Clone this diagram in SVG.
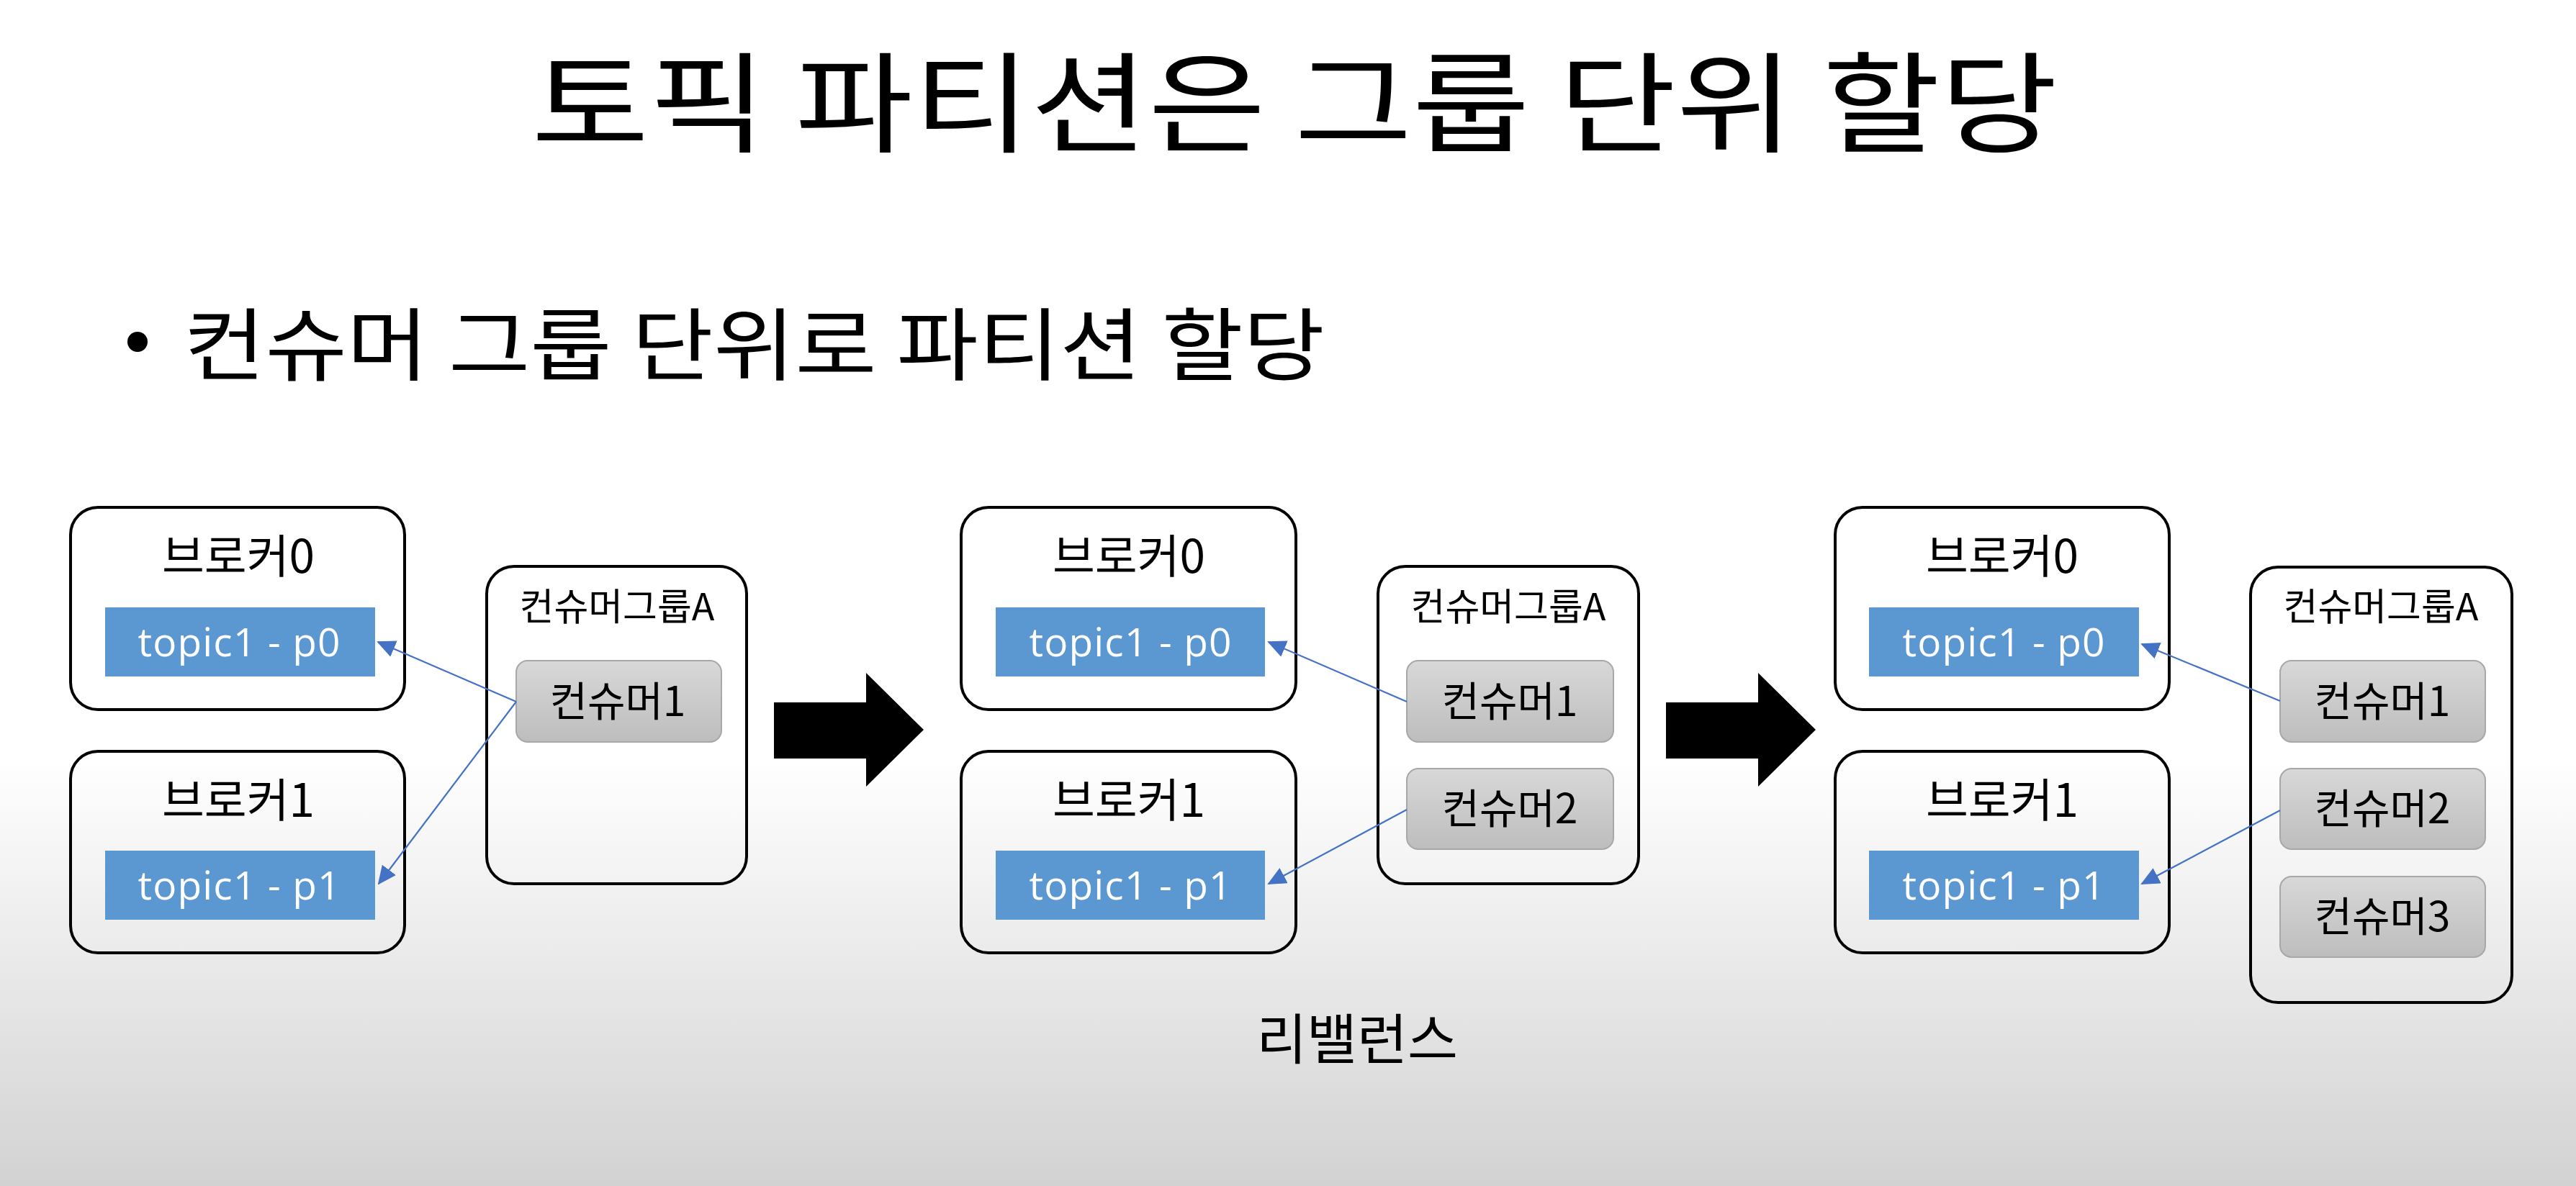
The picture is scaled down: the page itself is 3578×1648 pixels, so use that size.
<svg xmlns="http://www.w3.org/2000/svg" width="3578" height="1648" viewBox="0 0 3578 1648">
<defs>
<linearGradient id="bg" x1="0" y1="0" x2="0" y2="1">
<stop offset="0" stop-color="#ffffff"/>
<stop offset="0.64" stop-color="#ffffff"/>
<stop offset="1" stop-color="#d2d2d2"/>
</linearGradient>
<linearGradient id="cons" x1="0" y1="0" x2="0" y2="1">
<stop offset="0" stop-color="#d8d8d8"/>
<stop offset="1" stop-color="#bdbdbd"/>
</linearGradient>
<marker id="ah" markerUnits="userSpaceOnUse" markerWidth="26" markerHeight="24" refX="24" refY="12" orient="auto">
<path d="M0,0 L26,12 L0,24 Z" fill="#4472c4"/>
</marker>
<style>
.ko{font-family:"Noto Sans CJK KR","Noto Sans",sans-serif;fill:#000}
.broker{fill:none;stroke:#000;stroke-width:4}
.group{fill:none;stroke:#000;stroke-width:4}
.topic{fill:#5b97d1}
.tt{font-family:"Open Sans","Liberation Sans",sans-serif;font-size:55px;fill:#ffffff;text-anchor:middle}
.bl{font-size:64px;text-anchor:middle}
.gl{font-size:52px;text-anchor:middle}
.cons{fill:url(#cons);stroke:#a8a8a8;stroke-width:2}
.cl{font-size:57px;text-anchor:middle}
.conn{stroke:#4472c4;stroke-width:2.2;fill:none;marker-end:url(#ah)}
.big{fill:#000}
</style>
</defs>
<rect x="0" y="0" width="3578" height="1648" fill="url(#bg)"/>

<g id="title">
<text class="ko" x="738" y="200" font-size="152" textLength="2120" lengthAdjust="spacingAndGlyphs">토픽 파티션은 그룹 단위 할당</text>
</g>
<g id="subtitle">
<circle cx="191" cy="475" r="14" fill="#000"/>
<text class="ko" x="255" y="520" font-size="110" textLength="1585" lengthAdjust="spacingAndGlyphs">컨슈머 그룹 단위로 파티션 할당</text>
</g>

<!-- Panel 1 -->
<g id="p1-broker0">
<rect class="broker" x="98" y="705" width="464" height="281" rx="38"/>
<text class="ko bl" x="331" y="796">브로커0</text>
<rect class="topic" x="146" y="844" width="375" height="96"/>
<text class="tt" x="332" y="912" textLength="281" lengthAdjust="spacing">topic1 - p0</text>
</g>
<g id="p1-broker1">
<rect class="broker" x="98" y="1044" width="464" height="280" rx="38"/>
<text class="ko bl" x="331" y="1135">브로커1</text>
<rect class="topic" x="146" y="1182" width="375" height="96"/>
<text class="tt" x="332" y="1250" textLength="281" lengthAdjust="spacing">topic1 - p1</text>
</g>
<g id="p1-group">
<rect class="group" x="676" y="787" width="361" height="441" rx="38"/>
<text class="ko gl" x="857" y="862">컨슈머그룹A</text>
</g>
<g id="p1-consumer1">
<rect class="cons" x="717" y="918" width="285" height="113" rx="16"/>
<text class="ko cl" x="858" y="995">컨슈머1</text>
</g>

<!-- Panel 2 -->
<g id="p2-broker0">
<rect class="broker" x="1335" y="705" width="465" height="281" rx="38"/>
<text class="ko bl" x="1568" y="796">브로커0</text>
<rect class="topic" x="1383" y="844" width="374" height="96"/>
<text class="tt" x="1570" y="912" textLength="281" lengthAdjust="spacing">topic1 - p0</text>
</g>
<g id="p2-broker1">
<rect class="broker" x="1335" y="1044" width="465" height="280" rx="38"/>
<text class="ko bl" x="1568" y="1135">브로커1</text>
<rect class="topic" x="1383" y="1182" width="374" height="96"/>
<text class="tt" x="1570" y="1250" textLength="281" lengthAdjust="spacing">topic1 - p1</text>
</g>
<g id="p2-group">
<rect class="group" x="1914" y="787" width="362" height="441" rx="38"/>
<text class="ko gl" x="2095" y="862">컨슈머그룹A</text>
</g>
<g id="p2-consumer1">
<rect class="cons" x="1954" y="918" width="287" height="113" rx="16"/>
<text class="ko cl" x="2097" y="995">컨슈머1</text>
</g>
<g id="p2-consumer2">
<rect class="cons" x="1954" y="1068" width="287" height="112" rx="16"/>
<text class="ko cl" x="2097" y="1144">컨슈머2</text>
</g>

<!-- Panel 3 -->
<g id="p3-broker0">
<rect class="broker" x="2549" y="705" width="464" height="281" rx="38"/>
<text class="ko bl" x="2781" y="796">브로커0</text>
<rect class="topic" x="2596" y="844" width="375" height="96"/>
<text class="tt" x="2783" y="912" textLength="281" lengthAdjust="spacing">topic1 - p0</text>
</g>
<g id="p3-broker1">
<rect class="broker" x="2549" y="1044" width="464" height="280" rx="38"/>
<text class="ko bl" x="2781" y="1135">브로커1</text>
<rect class="topic" x="2596" y="1182" width="375" height="96"/>
<text class="tt" x="2783" y="1250" textLength="281" lengthAdjust="spacing">topic1 - p1</text>
</g>
<g id="p3-group">
<rect class="group" x="3126" y="788" width="363" height="605" rx="38"/>
<text class="ko gl" x="3307" y="862">컨슈머그룹A</text>
</g>
<g id="p3-consumer1">
<rect class="cons" x="3167" y="918" width="285" height="113" rx="16"/>
<text class="ko cl" x="3309" y="995">컨슈머1</text>
</g>
<g id="p3-consumer2">
<rect class="cons" x="3167" y="1068" width="285" height="112" rx="16"/>
<text class="ko cl" x="3309" y="1144">컨슈머2</text>
</g>
<g id="p3-consumer3">
<rect class="cons" x="3167" y="1218" width="285" height="112" rx="16"/>
<text class="ko cl" x="3309" y="1294">컨슈머3</text>
</g>

<g id="transition1">
<path class="big" d="M1075,976 L1203,976 L1203,935 L1283,1014 L1203,1093 L1203,1054 L1075,1054 Z"/>
</g>
<g id="transition2">
<path class="big" d="M2314,976 L2442,976 L2442,935 L2522,1014 L2442,1093 L2442,1054 L2314,1054 Z"/>
</g>

<g id="rebalance-label">
<text class="ko" x="1885" y="1472" font-size="76" text-anchor="middle">리밸런스</text>
</g>

<g id="connectors">
<line class="conn" x1="717" y1="975" x2="525" y2="892"/>
<line class="conn" x1="717" y1="975" x2="526" y2="1228"/>
<line class="conn" x1="1954" y1="975" x2="1762" y2="892"/>
<line class="conn" x1="1954" y1="1125" x2="1762" y2="1228"/>
<line class="conn" x1="3167" y1="974" x2="2975" y2="895"/>
<line class="conn" x1="3167" y1="1126" x2="2975" y2="1228"/>
</g>
</svg>
